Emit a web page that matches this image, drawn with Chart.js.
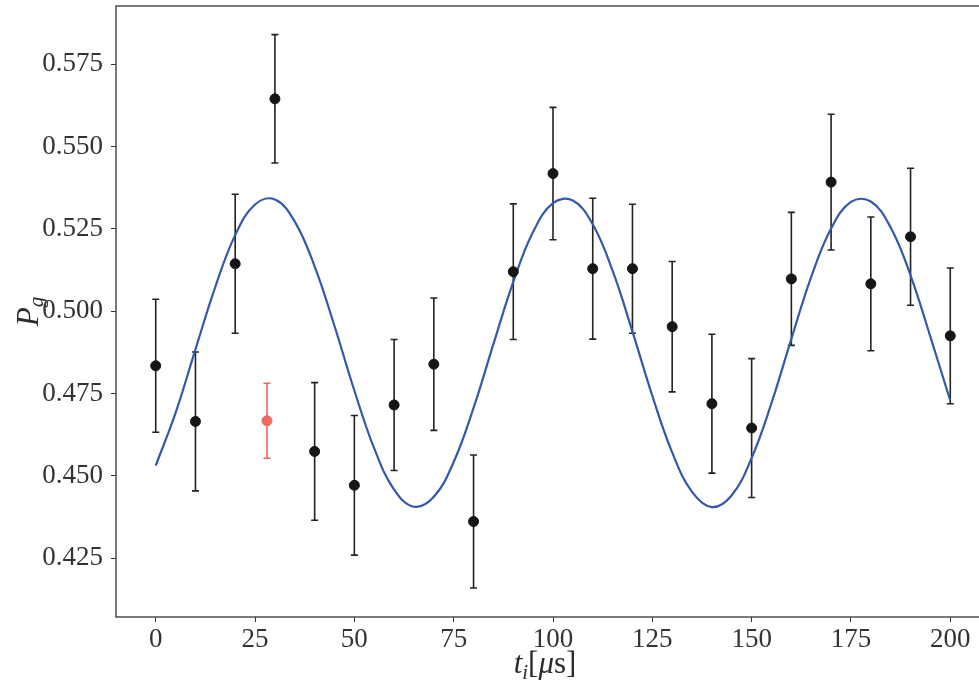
<!DOCTYPE html>
<html>
<head>
<meta charset="utf-8">
<script src="https://cdn.jsdelivr.net/npm/chart.js@4.4.1/dist/chart.umd.min.js"></script>
<style>
  html, body { margin: 0; padding: 0; background: #fff; overflow: hidden; }
  #wrap { position: absolute; left: 0; top: 0; width: 1000px; height: 685px; }
</style>
</head>
<body>
<div id="wrap"><canvas id="pgChart" width="1000" height="685"></canvas></div>
<script>
// measured points (black)
const tData = [0, 10, 20, 30, 40, 50, 60, 70, 80, 90, 100, 110, 120, 130, 140, 150, 160, 170, 180, 190, 200]
const pData = [0.4834, 0.4665, 0.5144, 0.5645, 0.4574, 0.4471, 0.4715, 0.4839, 0.4361, 0.5120, 0.5418,
  0.5129, 0.5129, 0.4953, 0.4719, 0.4645, 0.5098, 0.5392, 0.5083, 0.5226, 0.4925]
const pErr = [0.0202, 0.0211, 0.0211, 0.0195, 0.0209, 0.0212, 0.0199, 0.0201, 0.0202, 0.0206, 0.0201,
  0.0214, 0.0196, 0.0198, 0.0211, 0.0211, 0.0202, 0.0206, 0.0203, 0.0208, 0.0206]

// the red point
const redT = [28]
const redP = [0.4667]
const redErr = [0.0114]

// fit curve, every 5 us
const fitT = [0, 5, 10, 15, 20, 25, 30, 35, 40, 45, 50, 55, 60, 65, 70, 75, 80, 85, 90, 95, 100,
  105, 110, 115, 120, 125, 130, 135, 140, 145, 150, 155, 160, 165, 170, 175, 180, 185, 190, 195, 200]
const fitP = [0.4531, 0.4691, 0.4884, 0.5074, 0.5231, 0.5324, 0.5339, 0.5272, 0.5136, 0.4955, 0.4759,
  0.4583, 0.4458, 0.4406, 0.4436, 0.4542, 0.4706, 0.4900, 0.5089, 0.5241, 0.5328,
  0.5336, 0.5264, 0.5123, 0.4938, 0.4743, 0.4571, 0.4451, 0.4405, 0.4441, 0.4554,
  0.4721, 0.4916, 0.5104, 0.5251, 0.5332, 0.5333, 0.5254, 0.5109, 0.4922, 0.4728]

const xTicks = [0, 25, 50, 75, 100, 125, 150, 175, 200]
const yTicks = [0.425, 0.450, 0.475, 0.500, 0.525, 0.550, 0.575]

const axisColor = "#333333"
const tickFont = { family: "'Liberation Serif', 'DejaVu Serif', serif", size: 27 }

const toPoints = (xs, ys) => xs.map((x, i) => ({ x: x, y: ys[i] }))

// error bars with caps, drawn under the markers
const errorBars = {
  id: "errorBars",
  beforeDatasetsDraw(chart) {
    const { ctx, scales } = chart
    chart.data.datasets.forEach((ds, di) => {
      if (!ds.errors || !chart.isDatasetVisible(di)) return
      ctx.save()
      ctx.strokeStyle = ds.barColor
      ctx.lineWidth = 1.6
      ds.data.forEach((pt, i) => {
        const px = scales.x.getPixelForValue(pt.x)
        const top = scales.y.getPixelForValue(pt.y + ds.errors[i])
        const bot = scales.y.getPixelForValue(pt.y - ds.errors[i])
        ctx.beginPath()
        ctx.moveTo(px, top)
        ctx.lineTo(px, bot)
        ctx.moveTo(px - 3.5, top)
        ctx.lineTo(px + 3.5, top)
        ctx.moveTo(px - 3.5, bot)
        ctx.lineTo(px + 3.5, bot)
        ctx.stroke()
      })
      ctx.restore()
    })
  },
}

// box round the plot + axis titles with sub/italic parts
const frameAndTitles = {
  id: "frameAndTitles",
  afterDraw(chart) {
    const { ctx, chartArea: a } = chart
    ctx.save()
    ctx.strokeStyle = axisColor
    ctx.lineWidth = 1.3
    ctx.strokeRect(a.left, a.top, a.right - a.left, a.bottom - a.top)

    ctx.fillStyle = "#2b2b2b"
    ctx.textBaseline = "alphabetic"
    const serif = "'Liberation Serif', 'DejaVu Serif', serif"
    const drawParts = (parts, cx, baseY) => {
      let total = 0
      parts.forEach((p) => {
        ctx.font = p.font
        p.w = ctx.measureText(p.t).width
        total += p.w
      })
      let x = cx - total / 2
      parts.forEach((p) => {
        ctx.font = p.font
        ctx.fillText(p.t, x, baseY + (p.dy || 0))
        x += p.w
      })
    }

    // x title
    drawParts([
      { t: "t", font: "italic 31px " + serif },
      { t: "i", font: "italic 21px " + serif, dy: 6 },
      { t: "[", font: "31px " + serif },
      { t: "μ", font: "italic 31px " + serif },
      { t: "s]", font: "31px " + serif },
    ], (a.left + a.right) / 2 - 8, 673)

    // y title, rotated
    ctx.translate(38, (a.top + a.bottom) / 2)
    ctx.rotate(-Math.PI / 2)
    drawParts([
      { t: "P", font: "italic 31px " + serif },
      { t: "g", font: "italic 21px " + serif, dy: 5 },
    ], 0, 0)
    ctx.restore()
  },
}

const ctx = document.getElementById("pgChart").getContext("2d")
const pgChart = new Chart(ctx, {
  type: "scatter",
  data: {
    datasets: [
      {
        label: "fit",
        data: toPoints(fitT, fitP),
        showLine: true,
        borderColor: "#3458ab",
        borderWidth: 2.2,
        pointRadius: 0,
        tension: 0.4,
        order: 2,
      },
      {
        label: "data",
        data: toPoints(tData, pData),
        errors: pErr,
        barColor: "#222222",
        backgroundColor: "#161616",
        borderColor: "#161616",
        pointRadius: 5,
        order: 1,
      },
      {
        label: "outlier",
        data: toPoints(redT, redP),
        errors: redErr,
        barColor: "#ef6a5e",
        backgroundColor: "#ef6a5e",
        borderColor: "#ef6a5e",
        pointRadius: 5,
        order: 0,
      },
    ],
  },
  options: {
    responsive: false,
    animation: false,
    layout: { padding: { top: 4, right: 10, left: 0, bottom: 0 } },
    plugins: {
      legend: { display: false },
      tooltip: { enabled: false },
    },
    scales: {
      x: {
        type: "linear",
        min: -10,
        max: 210,
        afterBuildTicks: (scale) => {
          scale.ticks = xTicks.map((v) => ({ value: v }))
        },
        afterFit: (scale) => {
          scale.height = 68
          scale.paddingLeft = 0
          scale.paddingRight = 0
        },
        grid: { drawOnChartArea: false, drawTicks: true, tickLength: 5, color: axisColor },
        border: { display: false },
        ticks: {
          font: tickFont,
          color: "#333333",
          padding: 2,
          maxRotation: 0,
          callback: (v) => String(v),
        },
      },
      y: {
        type: "linear",
        min: 0.4071,
        max: 0.5927,
        afterBuildTicks: (scale) => {
          scale.ticks = yTicks.map((v) => ({ value: v }))
        },
        afterFit: (scale) => {
          scale.width = 116
          scale.paddingTop = 0
          scale.paddingBottom = 0
        },
        grid: { drawOnChartArea: false, drawTicks: true, tickLength: 5, color: axisColor },
        border: { display: false },
        ticks: {
          font: tickFont,
          color: "#333333",
          padding: 8,
          callback: (v) => v.toFixed(3),
        },
      },
    },
  },
  plugins: [errorBars, frameAndTitles],
})
</script>
</body>
</html>
